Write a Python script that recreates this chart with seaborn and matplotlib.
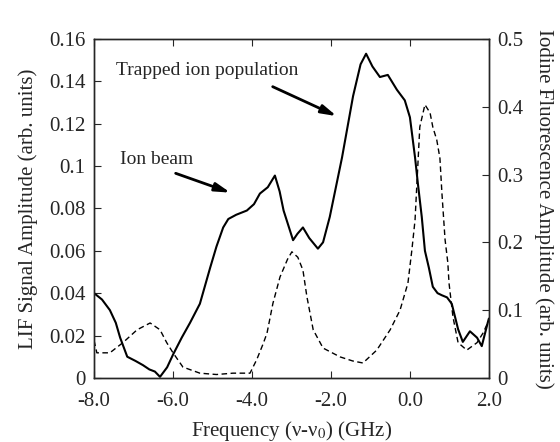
import matplotlib
matplotlib.use("Agg")
import matplotlib.pyplot as plt
import seaborn as sns
import pandas as pd

# LIF signal (solid, left axis)
lif_freq = [-8.0, -7.8, -7.6, -7.45, -7.34, -7.16, -6.95, -6.76, -6.6, -6.46, -6.33, -6.15,
            -6.0, -5.78, -5.57, -5.32, -5.06, -4.9, -4.73, -4.6, -4.4, -4.13, -3.95, -3.8,
            -3.6, -3.42, -3.3, -3.2, -2.96, -2.85, -2.71, -2.55, -2.33, -2.2, -2.03, -1.72,
            -1.44, -1.25, -1.11, -0.95, -0.76, -0.56, -0.33, -0.13, 0.0, 0.13, 0.2, 0.3,
            0.38, 0.48, 0.58, 0.7, 0.81, 0.94, 1.06, 1.22, 1.34, 1.52, 1.7, 1.82, 1.97, 2.0]
lif_amp = [0.040, 0.037, 0.032, 0.026, 0.019, 0.010, 0.008, 0.006, 0.004, 0.003, 0.0005, 0.005,
           0.011, 0.019, 0.026, 0.035, 0.052, 0.062, 0.071, 0.075, 0.077, 0.079, 0.082, 0.087,
           0.090, 0.0955, 0.088, 0.079, 0.065, 0.068, 0.071, 0.066, 0.061, 0.064, 0.076, 0.104,
           0.133, 0.148, 0.153, 0.147, 0.142, 0.143, 0.136, 0.131, 0.123, 0.104, 0.092, 0.076,
           0.060, 0.052, 0.043, 0.040, 0.039, 0.038, 0.035, 0.023, 0.017, 0.022, 0.019, 0.015, 0.026, 0.028]

# Iodine fluorescence (dashed, right axis)
iod_freq = [-8.0, -7.93, -7.6, -7.27, -6.91, -6.58, -6.33, -6.16, -6.0, -5.75, -5.32, -4.9,
            -4.48, -4.05, -3.88, -3.72, -3.62, -3.47, -3.29, -3.1, -2.99, -2.84, -2.71, -2.61,
            -2.45, -2.2, -1.77, -1.45, -1.19, -0.84, -0.5, -0.25, -0.05, 0.05, 0.13, 0.25,
            0.38, 0.51, 0.58, 0.68, 0.76, 0.81, 0.89, 0.96, 0.99, 1.09, 1.22, 1.44, 1.7,
            1.85, 1.97, 2.0]
iod_amp = [0.055, 0.037, 0.037, 0.052, 0.071, 0.081, 0.071, 0.052, 0.037, 0.016, 0.007, 0.005,
           0.007, 0.007, 0.027, 0.050, 0.066, 0.11, 0.149, 0.175, 0.186, 0.178, 0.159, 0.12,
           0.071, 0.044, 0.031, 0.025, 0.022, 0.041, 0.071, 0.10, 0.14, 0.189, 0.233, 0.37,
           0.403, 0.391, 0.370, 0.351, 0.324, 0.273, 0.204, 0.170, 0.14, 0.09, 0.052, 0.041,
           0.052, 0.066, 0.081, 0.085]

x_ticks = [-8.0, -6.0, -4.0, -2.0, 0.0, 2.0]
left_ticks = [0, 0.02, 0.04, 0.06, 0.08, 0.1, 0.12, 0.14, 0.16]
right_ticks = [0, 0.1, 0.2, 0.3, 0.4, 0.5]

sns.set_style("ticks")
plt.rcParams["font.family"] = ["Liberation Serif", "DejaVu Serif"]
plt.rcParams["mathtext.fontset"] = "stix"
plt.rcParams["axes.unicode_minus"] = False

fig = plt.figure(figsize=(5.6, 4.42), dpi=100)
ax = fig.add_axes([0.168, 0.145, 0.705, 0.767])
ax2 = ax.twinx()

lif = pd.DataFrame({"f": lif_freq, "a": lif_amp})
iod = pd.DataFrame({"f": iod_freq, "a": iod_amp})
sns.lineplot(data=lif, x="f", y="a", ax=ax, color="black", linewidth=1.5)
sns.lineplot(data=iod, x="f", y="a", ax=ax2, color="black", linewidth=1.0,
             linestyle=(0, (4, 2.5)))

ax.set_xlim(-8, 2)
ax.set_ylim(0, 0.16)
ax2.set_ylim(0, 0.5)
ax.set_xticks(x_ticks)
ax.set_xticklabels([f"{v:.1f}" for v in x_ticks])
ax.set_yticks(left_ticks)
ax.set_yticklabels([f"{v:g}" for v in left_ticks])
ax2.set_yticks(right_ticks)
ax2.set_yticklabels([f"{v:g}" for v in right_ticks])

fs = 15
ax.tick_params(axis="both", direction="in", labelsize=fs, length=5, width=0.8,
               top=True, pad=6)
ax.tick_params(axis="x", pad=10)
ax2.tick_params(axis="y", direction="in", labelsize=fs, length=5, width=0.8, pad=6)
for a in (ax, ax2):
    for s in a.spines.values():
        s.set_linewidth(1.0)

ax.set_xlabel("Frequency (ν-ν$_{0}$) (GHz)", fontsize=fs, labelpad=6)
ax.set_ylabel("LIF Signal Amplitude (arb. units)", fontsize=fs, labelpad=8)
ax2.set_ylabel("Iodine Fluorescence Amplitude (arb. units)", fontsize=fs,
               rotation=-90, labelpad=22)

ax.annotate("", xy=(-1.79, 0.123), xytext=(-3.54, 0.138),
            arrowprops=dict(arrowstyle="-|>,head_length=0.9,head_width=0.25",
                            color="black", lw=2))
ax.text(-7.44, 0.145, "Trapped ion population", fontsize=14, va="center", ha="left")
ax.annotate("", xy=(-4.48, 0.087), xytext=(-6.0, 0.097),
            arrowprops=dict(arrowstyle="-|>,head_length=0.9,head_width=0.25",
                            color="black", lw=2))
ax.text(-7.34, 0.103, "Ion beam", fontsize=14, va="center", ha="left")

fig.savefig("out.png", dpi=100)
